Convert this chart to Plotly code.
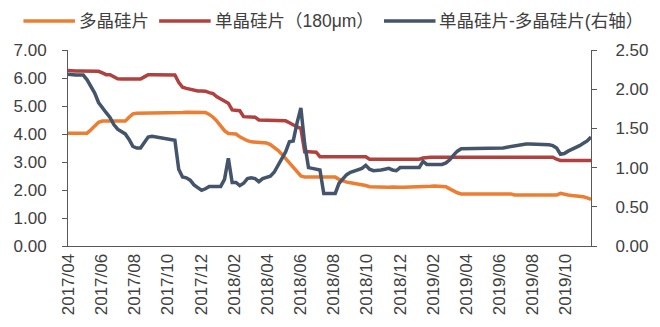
import pandas as pd
import plotly.graph_objects as go

# Weekly wafer prices (yuan/piece), from the first week of April 2017
start_date = "2017-04-01"

poly_price = [
    4.03, 4.03, 4.03, 4.03, 4.03, 4.03, 4.15, 4.30, 4.42,
    4.46, 4.46, 4.46, 4.46, 4.46, 4.46, 4.46, 4.60, 4.72,
    4.74, 4.74, 4.74, 4.74, 4.74, 4.74, 4.74, 4.74, 4.74, 4.74,
    4.77, 4.77, 4.77, 4.78, 4.78, 4.78, 4.78, 4.78, 4.77,
    4.70, 4.60, 4.46, 4.30, 4.12,
    4.02, 4.01, 4.00, 3.90, 3.82, 3.76,
    3.72, 3.71, 3.70, 3.70, 3.68,
    3.62, 3.52, 3.42, 3.28, 3.12, 2.95, 2.80, 2.62, 2.50,
    2.46, 2.46, 2.46, 2.46, 2.46, 2.46, 2.46, 2.46, 2.46,
    2.38, 2.32, 2.28, 2.26, 2.24, 2.22, 2.20, 2.16,
    2.12, 2.11, 2.10, 2.10, 2.10, 2.10, 2.11, 2.12,
    2.10, 2.10, 2.10, 2.10, 2.10, 2.10, 2.10, 2.10,
    2.13, 2.14, 2.13, 2.12, 2.12,
    2.04, 1.96, 1.90,
    1.86, 1.86, 1.86, 1.86, 1.86, 1.86, 1.86, 1.86, 1.86, 1.86, 1.86, 1.86, 1.86, 1.86,
    1.82, 1.82, 1.82, 1.82, 1.82, 1.82, 1.82, 1.82, 1.82, 1.82, 1.82, 1.82,
    1.88, 1.84, 1.82, 1.80, 1.79, 1.78, 1.76, 1.72, 1.67,
]

mono_price = [
    6.27, 6.25, 6.25, 6.25, 6.25, 6.25, 6.25, 6.25, 6.24,
    6.18, 6.12, 6.12, 6.05,
    5.97, 5.96, 5.96, 5.96, 5.96, 5.96, 5.96,
    6.04, 6.12, 6.12, 6.12, 6.12, 6.12, 6.12, 6.12, 6.11,
    5.85, 5.67, 5.63, 5.60, 5.55, 5.54, 5.54, 5.53,
    5.48, 5.44, 5.33, 5.25, 5.15, 5.10, 4.86, 4.84, 4.83,
    4.62, 4.61, 4.60, 4.60,
    4.50, 4.50, 4.50, 4.49, 4.49, 4.48, 4.48, 4.47,
    4.40, 4.32, 4.25, 4.20,
    3.37, 3.37, 3.36, 3.35,
    3.19, 3.19, 3.19, 3.19, 3.19, 3.19, 3.19, 3.19, 3.19, 3.19, 3.19, 3.19, 3.19,
    3.10, 3.10, 3.10, 3.10, 3.10, 3.10, 3.10, 3.10, 3.10, 3.10, 3.10, 3.10, 3.10, 3.10,
    3.14,
    3.17, 3.17, 3.17, 3.17, 3.17, 3.17, 3.17, 3.17, 3.17, 3.17,
    3.17, 3.17, 3.17, 3.17, 3.17, 3.17, 3.17, 3.17, 3.17, 3.17,
    3.17, 3.17, 3.17, 3.17, 3.17, 3.17, 3.17, 3.17, 3.17, 3.17,
    3.17, 3.17, 3.17, 3.17,
    3.10,
    3.05, 3.05, 3.05, 3.05, 3.05, 3.05, 3.05, 3.05, 3.05,
]

price_spread = [
    2.19, 2.18, 2.18, 2.18, 2.18,
    2.12, 2.04, 1.95, 1.83, 1.76, 1.70, 1.64, 1.55, 1.49, 1.46, 1.43, 1.36, 1.27,
    1.25, 1.25, 1.32, 1.39,
    1.40, 1.39, 1.38, 1.37, 1.37, 1.36,
    1.35, 0.98, 0.88, 0.87, 0.84, 0.78, 0.74, 0.71, 0.73, 0.76,
    0.76, 0.76, 0.76, 0.85, 1.12, 0.81, 0.81, 0.77, 0.80, 0.86,
    0.87, 0.86, 0.82, 0.86, 0.88, 0.89, 0.94, 1.02, 1.10, 1.20,
    1.33, 1.34, 1.57, 1.76, 1.30, 1.00, 0.99, 0.98, 0.97,
    0.67, 0.67, 0.67, 0.67,
    0.80, 0.86, 0.91, 0.94, 0.96, 0.98, 0.99, 1.03,
    0.98, 0.96, 0.96, 0.97, 0.98, 0.99, 0.97, 0.96,
    1.00, 1.00, 1.00, 1.00, 1.00, 1.00,
    1.08, 1.04, 1.04, 1.04, 1.04, 1.04, 1.06, 1.10, 1.16, 1.21, 1.24,
    1.24, 1.24, 1.24, 1.24, 1.24, 1.24, 1.24, 1.24, 1.24,
    1.25, 1.25, 1.26, 1.27, 1.27, 1.28,
    1.30, 1.30, 1.30, 1.30, 1.30, 1.30, 1.30,
    1.29, 1.28, 1.25, 1.17, 1.18, 1.21, 1.23, 1.26, 1.28, 1.31, 1.34, 1.39,
]

assert len(poly_price) == len(mono_price) == len(price_spread), (
    len(poly_price), len(mono_price), len(price_spread))

dates = pd.date_range(start_date, periods=len(poly_price), freq="7D")

series_names = ["多晶硅片", "单晶硅片（180μm）", "单晶硅片-多晶硅片(右轴）"]
series_colors = ["#ED7D31", "#B0413E", "#44546A"]

text_color = "#404040"
axis_color = "#595959"
font_family = "Liberation Sans, Arial, Noto Sans CJK SC, sans-serif"

W, H = 660, 327
M = dict(l=68, r=64, t=50, b=81)
plot_w = W - M["l"] - M["r"]
plot_h = H - M["t"] - M["b"]

fig = go.Figure()
fig.add_trace(go.Scatter(x=dates, y=poly_price, name=series_names[0], mode="lines",
                         line=dict(color=series_colors[0], width=3.5)))
fig.add_trace(go.Scatter(x=dates, y=mono_price, name=series_names[1], mode="lines",
                         line=dict(color=series_colors[1], width=3.5)))
fig.add_trace(go.Scatter(x=dates, y=price_spread, name=series_names[2], mode="lines",
                         line=dict(color=series_colors[2], width=3.5), yaxis="y2"))


def px_to_paper_x(px):
    return (px - M["l"]) / plot_w


def px_to_paper_y(py):
    return (H - M["b"] - py) / plot_h


# Key row across the top: a line swatch followed by the series name
key_y = px_to_paper_y(21)
key_swatch_start = [23, 160, 387]
key_swatch_len = 52
shapes, annotations = [], []
for name, color, x0 in zip(series_names, series_colors, key_swatch_start):
    shapes.append(dict(type="line", xref="paper", yref="paper",
                       x0=px_to_paper_x(x0), x1=px_to_paper_x(x0 + key_swatch_len),
                       y0=key_y, y1=key_y, line=dict(color=color, width=3.5)))
    annotations.append(dict(xref="paper", yref="paper",
                            x=px_to_paper_x(x0 + key_swatch_len + 2), y=key_y,
                            xanchor="left", yanchor="middle", showarrow=False,
                            text=name,
                            font=dict(family=font_family, size=17.5, color=text_color)))

tick_font = dict(family=font_family, size=17, color=text_color)

fig.update_layout(
    width=W, height=H,
    margin=M,
    paper_bgcolor="white", plot_bgcolor="white",
    font=dict(family=font_family, color=text_color),
    showlegend=False,
    shapes=shapes,
    annotations=annotations,
    xaxis=dict(
        type="date", range=[dates[0], dates[-1]],
        tick0=start_date, dtick="M2", tickformat="%Y/%m", tickangle=-90,
        showline=True, linecolor=axis_color, linewidth=1,
        ticks="", showgrid=False, zeroline=False, tickfont=tick_font,
    ),
    yaxis=dict(
        range=[0, 7], dtick=1, tickformat=".2f",
        showline=True, linecolor=axis_color, linewidth=1,
        ticks="outside", ticklen=5, tickcolor=axis_color,
        ticklabelstandoff=12,
        showgrid=False, zeroline=False, tickfont=tick_font,
    ),
    yaxis2=dict(
        range=[0, 2.5], dtick=0.5, tickformat=".2f",
        overlaying="y", side="right",
        showline=True, linecolor=axis_color, linewidth=1,
        ticks="outside", ticklen=5, tickcolor=axis_color,
        ticklabelstandoff=15,
        showgrid=False, zeroline=False, tickfont=tick_font,
    ),
)

fig.write_html("out.html")
